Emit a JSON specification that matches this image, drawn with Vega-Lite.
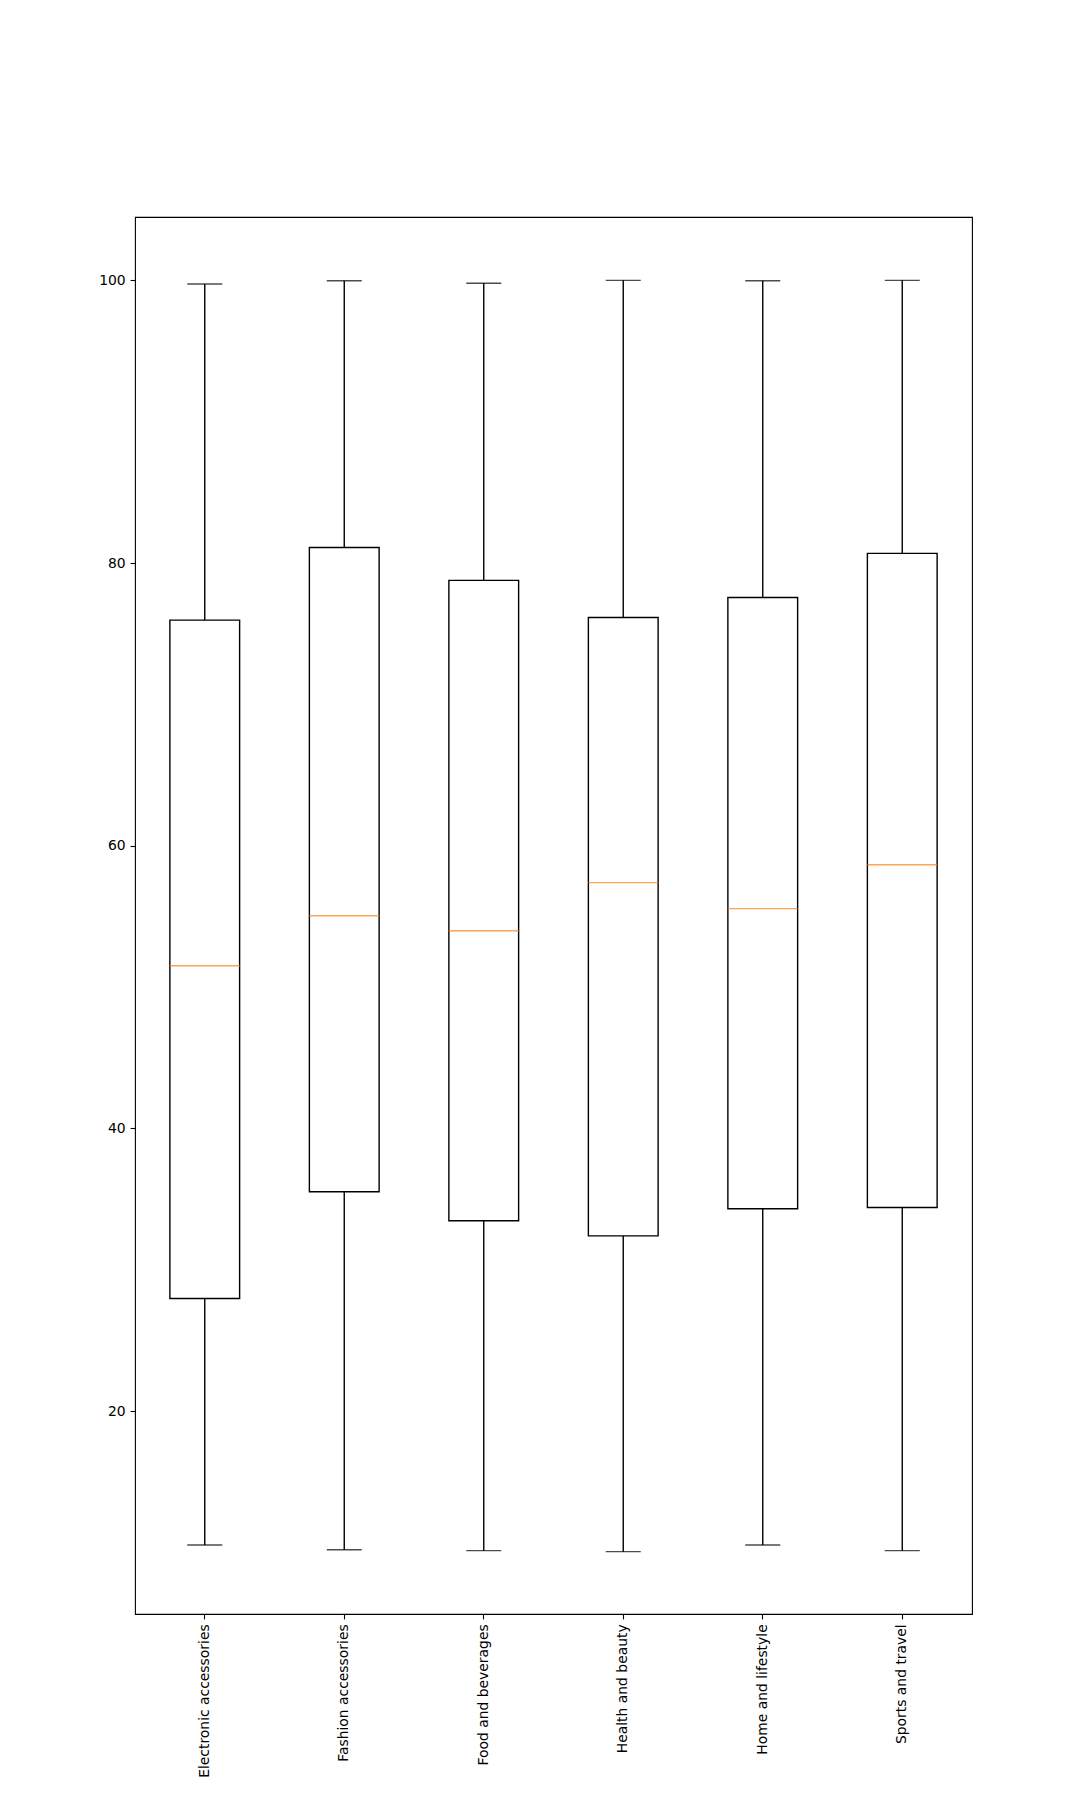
{
  "$schema": "https://vega.github.io/schema/vega-lite/v6.json",
  "autosize": {"type": "none"},
  "padding": {"left": 135, "top": 217, "right": 108, "bottom": 200},
  "width": 837,
  "height": 1397,
  "background": "white",
  "config": {
    "view": {"stroke": "black", "strokeWidth": 1.1},
    "axis": {
      "grid": false,
      "domain": false,
      "tickColor": "black",
      "tickSize": 4.9,
      "tickWidth": 1.1,
      "labelPadding": 4.9,
      "labelFont": "DejaVu Sans",
      "labelFontSize": 13.9,
      "labelColor": "black",
      "title": null
    }
  },
  "data": {
    "values": [
      {"category": "Electronic accessories", "lo": 10.53, "q1": 27.97, "median": 51.51, "q3": 75.96, "hi": 99.74},
      {"category": "Fashion accessories", "lo": 10.2, "q1": 35.52, "median": 55.05, "q3": 81.1, "hi": 99.97},
      {"category": "Food and beverages", "lo": 10.13, "q1": 33.47, "median": 53.99, "q3": 78.77, "hi": 99.79},
      {"category": "Health and beauty", "lo": 10.06, "q1": 32.4, "median": 57.39, "q3": 76.15, "hi": 100.0},
      {"category": "Home and lifestyle", "lo": 10.53, "q1": 34.32, "median": 55.55, "q3": 77.56, "hi": 99.97},
      {"category": "Sports and travel", "lo": 10.13, "q1": 34.41, "median": 58.66, "q3": 80.68, "hi": 100.0}
    ]
  },
  "encoding": {
    "x": {
      "field": "category",
      "type": "nominal",
      "sort": null,
      "scale": {"type": "band", "paddingInner": 0, "paddingOuter": 0},
      "axis": {"labelAngle": -90, "title": null}
    }
  },
  "layer": [
    {
      "mark": {"type": "rule", "color": "black", "strokeWidth": 1.4},
      "encoding": {
        "y": {
          "field": "lo",
          "type": "quantitative",
          "scale": {"domain": [5.65, 104.48], "nice": false, "zero": false},
          "axis": {"values": [20, 40, 60, 80, 100], "title": null}
        },
        "y2": {"field": "hi"}
      }
    },
    {
      "mark": {"type": "bar", "fill": "white", "stroke": "black", "strokeWidth": 1.4, "width": {"band": 0.5}},
      "encoding": {
        "y": {"field": "q1", "type": "quantitative"},
        "y2": {"field": "q3"}
      }
    },
    {
      "mark": {"type": "tick", "color": "#ff7f0e", "size": 70, "thickness": 1.4},
      "encoding": {
        "y": {"field": "median", "type": "quantitative"}
      }
    },
    {
      "mark": {"type": "tick", "color": "black", "size": 35, "thickness": 1.4},
      "encoding": {
        "y": {"field": "lo", "type": "quantitative"}
      }
    },
    {
      "mark": {"type": "tick", "color": "black", "size": 35, "thickness": 1.4},
      "encoding": {
        "y": {"field": "hi", "type": "quantitative"}
      }
    }
  ]
}
